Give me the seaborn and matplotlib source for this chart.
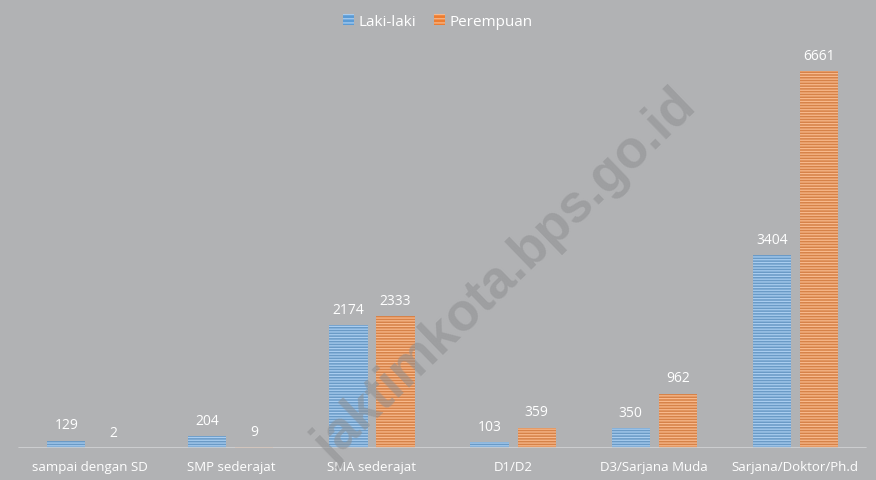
import matplotlib
matplotlib.use("Agg")
import matplotlib.pyplot as plt
import numpy as np
import pandas as pd
import seaborn as sns
from matplotlib.patches import Patch

categories = [
    "sampai dengan SD",
    "SMP sederajat",
    "SMA sederajat",
    "D1/D2",
    "D3/Sarjana Muda",
    "Sarjana/Doktor/Ph.d",
]
laki_laki = [129, 204, 2174, 103, 350, 3404]
perempuan = [2, 9, 2333, 359, 962, 6661]
series_names = ["Laki-laki", "Perempuan"]

BG = "#b1b2b4"
BLUE = "#5b9bd5"
BLUE_LIGHT = "#a9cdf0"
ORANGE = "#ed7d31"
ORANGE_LIGHT = "#f8b98c"

sns.set_theme(style="white")
plt.rcParams["font.family"] = ["Open Sans", "DejaVu Sans"]
plt.rcParams["hatch.linewidth"] = 0.9

df = pd.DataFrame({
    "kategori": categories * 2,
    "jenis": [series_names[0]] * len(categories) + [series_names[1]] * len(categories),
    "jumlah": laki_laki + perempuan,
})

fig = plt.figure(figsize=(8.76, 4.81), dpi=100, facecolor=BG)
ax = fig.add_axes([8 / 876, 32 / 481, 862 / 876, 399 / 481])
ax.set_facecolor(BG)

sns.barplot(
    data=df, x="kategori", y="jumlah", hue="jenis", order=categories,
    hue_order=series_names, palette=[BLUE, ORANGE], width=0.667, gap=0.19,
    legend=False, ax=ax,
)

light = {0: BLUE_LIGHT, 1: ORANGE_LIGHT}
for i, cont in enumerate(ax.containers):
    for bar in cont:
        bar.set_hatch("------")
        bar.set_edgecolor(light[i])
        bar.set_linewidth(0)
    ax.bar_label(cont, padding=6, color="white", fontsize=10)

ax.set_xlim(-0.58, 5.53)
ax.set_ylim(0, 7050)
ax.set_xlabel("")
ax.set_ylabel("")
ax.set_yticks([])
ax.tick_params(axis="x", length=0, colors="white", labelsize=9.5, pad=9)
for s in ax.spines.values():
    s.set_visible(False)
ax.axhline(0, xmin=0.013, xmax=0.995, color="#d2d3d5", lw=1.2, zorder=5)

handles = [
    Patch(facecolor=BLUE, edgecolor=BLUE_LIGHT, hatch="----", lw=0),
    Patch(facecolor=ORANGE, edgecolor=ORANGE_LIGHT, hatch="----", lw=0),
]
leg = fig.legend(
    handles, series_names, loc="center", bbox_to_anchor=(0.5, 1 - 22 / 481),
    ncol=2, frameon=False, fontsize=11, handlelength=0.7, handleheight=0.7,
    handletextpad=0.3, columnspacing=1.2,
)
for t in leg.get_texts():
    t.set_color("white")

# watermark
fig.text(
    506 / 876, 1 - 276 / 481, "jaktimkota.bps.go.id", rotation=44,
    ha="center", va="center", fontsize=38, fontweight="bold",
    color="#8e8f91", alpha=0.55, family=["Liberation Sans", "DejaVu Sans"],
)

fig.savefig("out.png", dpi=100, facecolor=BG)
